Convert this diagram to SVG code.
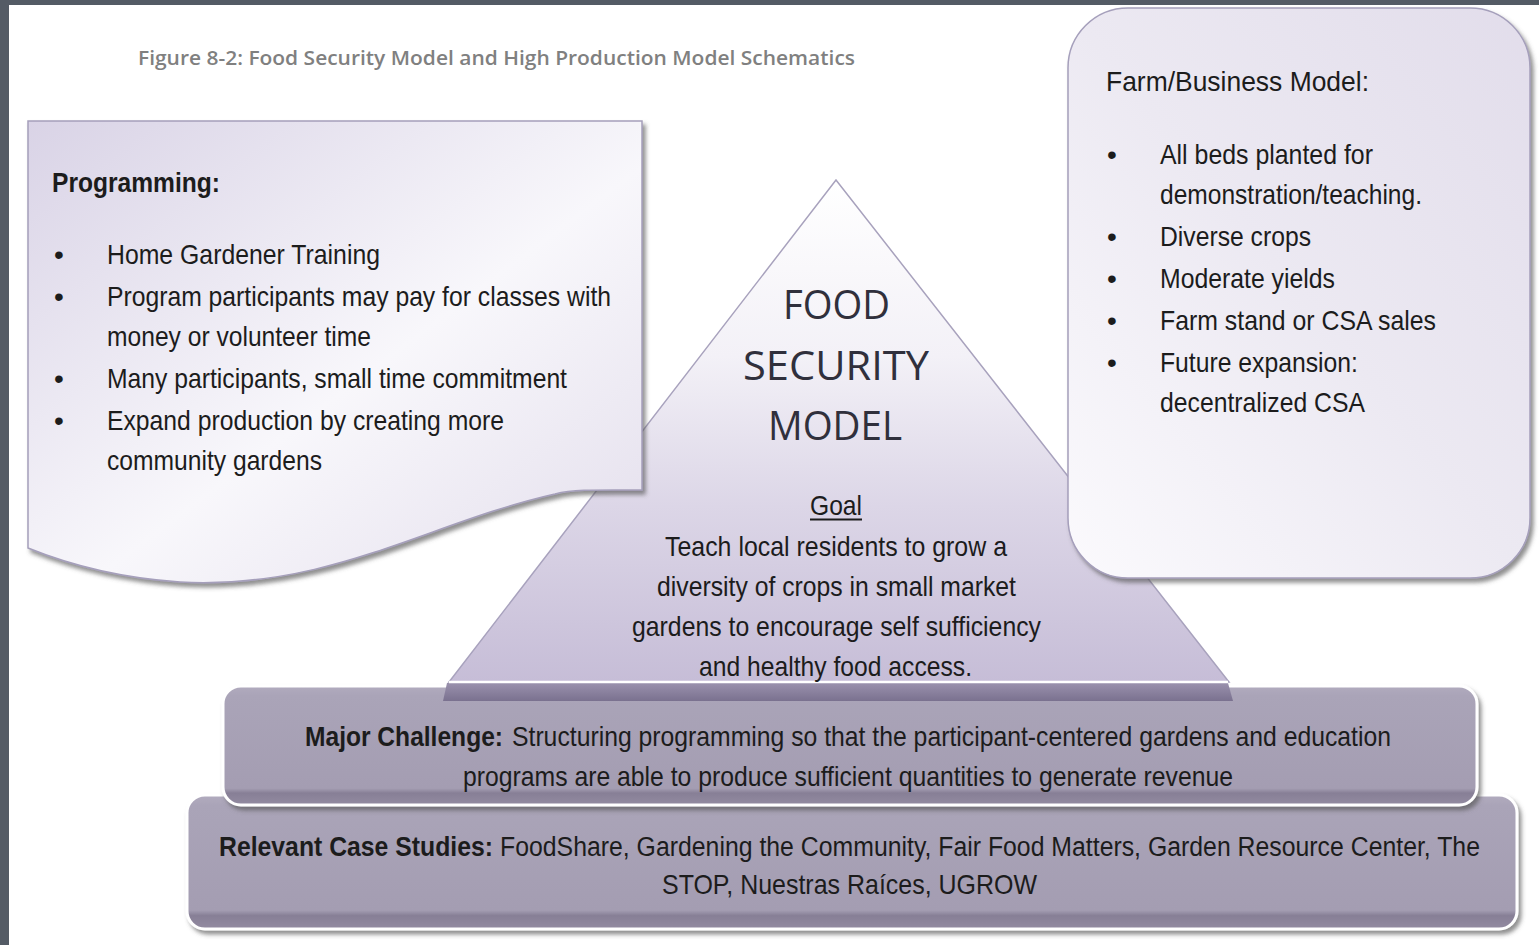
<svg xmlns="http://www.w3.org/2000/svg" width="1539" height="945" viewBox="0 0 1539 945">
<style>
.body{font-family:"Liberation Sans Narrow","Liberation Sans",Arial,sans-serif;font-size:28px;fill:#1c1c1c}
.b{font-weight:bold}
.title{font-family:"Open Sans","Liberation Sans",sans-serif;font-size:19px;font-weight:600;fill:#808080}
.big{font-family:"Open Sans","Noto Sans",sans-serif;font-size:41px;font-weight:500;fill:#30303c}
.box{stroke:#a59fbb;stroke-width:1.5}
.bar{stroke:#ffffff;stroke-width:3}
</style>
<defs>
<filter id="shadow" x="-5%" y="-5%" width="112%" height="115%">
<feDropShadow dx="3" dy="4" stdDeviation="2" flood-color="#555" flood-opacity="0.65"/>
</filter>
<linearGradient id="boxFill" x1="0" y1="0" x2="1" y2="1">
<stop offset="0" stop-color="#d9d3e6"/>
<stop offset="0.55" stop-color="#f8f7fb"/>
<stop offset="1" stop-color="#e3deec"/>
</linearGradient>
<linearGradient id="boxFill2" x1="0" y1="1" x2="1" y2="0">
<stop offset="0" stop-color="#fbfafd"/>
<stop offset="0.5" stop-color="#ece9f2"/>
<stop offset="1" stop-color="#e2ddeb"/>
</linearGradient>
<linearGradient id="triFill" gradientUnits="userSpaceOnUse" x1="0" y1="180" x2="0" y2="682">
<stop offset="0" stop-color="#ffffff"/>
<stop offset="0.35" stop-color="#f3f1f7"/>
<stop offset="0.65" stop-color="#dcd6e7"/>
<stop offset="1" stop-color="#c6bdd7"/>
</linearGradient>
<linearGradient id="triBase" x1="0" y1="0" x2="0" y2="1">
<stop offset="0" stop-color="#9a91ad"/>
<stop offset="1" stop-color="#7a718f"/>
</linearGradient>
<linearGradient id="barFill" x1="0" y1="0" x2="0" y2="1">
<stop offset="0" stop-color="#b1abbe"/>
<stop offset="0.08" stop-color="#aaa4b8"/>
<stop offset="0.86" stop-color="#a49db2"/>
<stop offset="0.9" stop-color="#877f96"/>
<stop offset="1" stop-color="#938ba1"/>
</linearGradient>
</defs>
<rect x="0" y="0" width="1539" height="945" fill="#ffffff"/>
<rect x="0" y="0" width="1539" height="5" fill="#545b65"/>
<rect x="0" y="0" width="9" height="945" fill="#545b65"/>
<text class="title" x="138" y="65" textLength="717" lengthAdjust="spacingAndGlyphs">Figure 8-2: Food Security Model and High Production Model Schematics</text>

<g id="connectors"></g>

<g id="case-studies">
<rect class="bar" x="187" y="795" width="1330" height="134" rx="18" fill="url(#barFill)" filter="url(#shadow)"/>
<text class="body b" x="219" y="856" textLength="274" lengthAdjust="spacingAndGlyphs">Relevant Case Studies:</text>
<text class="body" transform="translate(500,856) scale(0.86,1)" x="0" y="0" textLength="1139.5" lengthAdjust="spacingAndGlyphs">FoodShare, Gardening the Community, Fair Food Matters, Garden Resource Center, The</text>
<text class="body" x="662" y="894" textLength="375" lengthAdjust="spacingAndGlyphs">STOP, Nuestras Raíces, UGROW</text>
</g>

<g id="challenge">
<rect class="bar" x="223" y="686" width="1254" height="119" rx="18" fill="url(#barFill)" filter="url(#shadow)"/>
<text class="body b" x="305" y="746" textLength="198" lengthAdjust="spacingAndGlyphs">Major Challenge:</text>
<text class="body" x="512" y="746" textLength="879" lengthAdjust="spacingAndGlyphs">Structuring programming so that the participant-centered gardens and education</text>
<text class="body" x="463" y="786" textLength="770" lengthAdjust="spacingAndGlyphs">programs are able to produce sufficient quantities to generate revenue</text>
</g>

<g id="pyramid">
<polygon points="836,180 1229,682 449,682" fill="url(#triFill)" stroke="#a8a2bd" stroke-width="1.5"/>
<polygon points="447,683 1228,683 1233,701 443,701" fill="url(#triBase)"/>
<line x1="449" y1="682" x2="1228" y2="682" stroke="#ffffff" stroke-width="2.5"/>
<text class="big" x="783" y="319" textLength="107" lengthAdjust="spacingAndGlyphs">FOOD</text>
<text class="big" x="743" y="380" textLength="186" lengthAdjust="spacingAndGlyphs">SECURITY</text>
<text class="big" x="768" y="440" textLength="134" lengthAdjust="spacingAndGlyphs">MODEL</text>
<text class="body" x="810" y="515" textLength="52" lengthAdjust="spacingAndGlyphs">Goal</text>
<line x1="810" y1="519.5" x2="862" y2="519.5" stroke="#1c1c1c" stroke-width="2"/>
<text class="body" x="665" y="556" textLength="342" lengthAdjust="spacingAndGlyphs">Teach local residents to grow a</text>
<text class="body" x="657" y="596" textLength="359" lengthAdjust="spacingAndGlyphs">diversity of crops in small market</text>
<text class="body" x="632" y="636" textLength="409" lengthAdjust="spacingAndGlyphs">gardens to encourage self sufficiency</text>
<text class="body" x="699" y="676" textLength="273" lengthAdjust="spacingAndGlyphs">and healthy food access.</text>
</g>

<g id="programming">
<path class="box" d="M28,121 H642 V490 C600,490 575,489 555,494 C430,522 330,590 180,582 C120,578 70,565 28,548 Z" fill="url(#boxFill)" filter="url(#shadow)"/>
<text class="body b" x="52" y="192" textLength="168" lengthAdjust="spacingAndGlyphs">Programming:</text>
<text class="body" x="54" y="264">•</text>
<text class="body" x="107" y="264" textLength="273" lengthAdjust="spacingAndGlyphs">Home Gardener Training</text>
<text class="body" x="54" y="306">•</text>
<text class="body" x="107" y="306" textLength="504" lengthAdjust="spacingAndGlyphs">Program participants may pay for classes with</text>
<text class="body" x="107" y="346" textLength="264" lengthAdjust="spacingAndGlyphs">money or volunteer time</text>
<text class="body" x="54" y="388">•</text>
<text class="body" x="107" y="388" textLength="460" lengthAdjust="spacingAndGlyphs">Many participants, small time commitment</text>
<text class="body" x="54" y="430">•</text>
<text class="body" x="107" y="430" textLength="397" lengthAdjust="spacingAndGlyphs">Expand production by creating more</text>
<text class="body" x="107" y="470" textLength="215" lengthAdjust="spacingAndGlyphs">community gardens</text>
</g>

<g id="farm-business">
<rect class="box" x="1068" y="8" width="462" height="570" rx="60" fill="url(#boxFill2)" filter="url(#shadow)"/>
<text class="body" x="1106" y="91" textLength="263" lengthAdjust="spacingAndGlyphs">Farm/Business Model:</text>
<text class="body" x="1107" y="164">•</text>
<text class="body" x="1160" y="164" textLength="213" lengthAdjust="spacingAndGlyphs">All beds planted for</text>
<text class="body" x="1160" y="204" textLength="262" lengthAdjust="spacingAndGlyphs">demonstration/teaching.</text>
<text class="body" x="1107" y="246">•</text>
<text class="body" x="1160" y="246" textLength="151" lengthAdjust="spacingAndGlyphs">Diverse crops</text>
<text class="body" x="1107" y="288">•</text>
<text class="body" x="1160" y="288" textLength="175" lengthAdjust="spacingAndGlyphs">Moderate yields</text>
<text class="body" x="1107" y="330">•</text>
<text class="body" x="1160" y="330" textLength="276" lengthAdjust="spacingAndGlyphs">Farm stand or CSA sales</text>
<text class="body" x="1107" y="372">•</text>
<text class="body" x="1160" y="372" textLength="198" lengthAdjust="spacingAndGlyphs">Future expansion:</text>
<text class="body" x="1160" y="412" textLength="205" lengthAdjust="spacingAndGlyphs">decentralized CSA</text>
</g>
</svg>
